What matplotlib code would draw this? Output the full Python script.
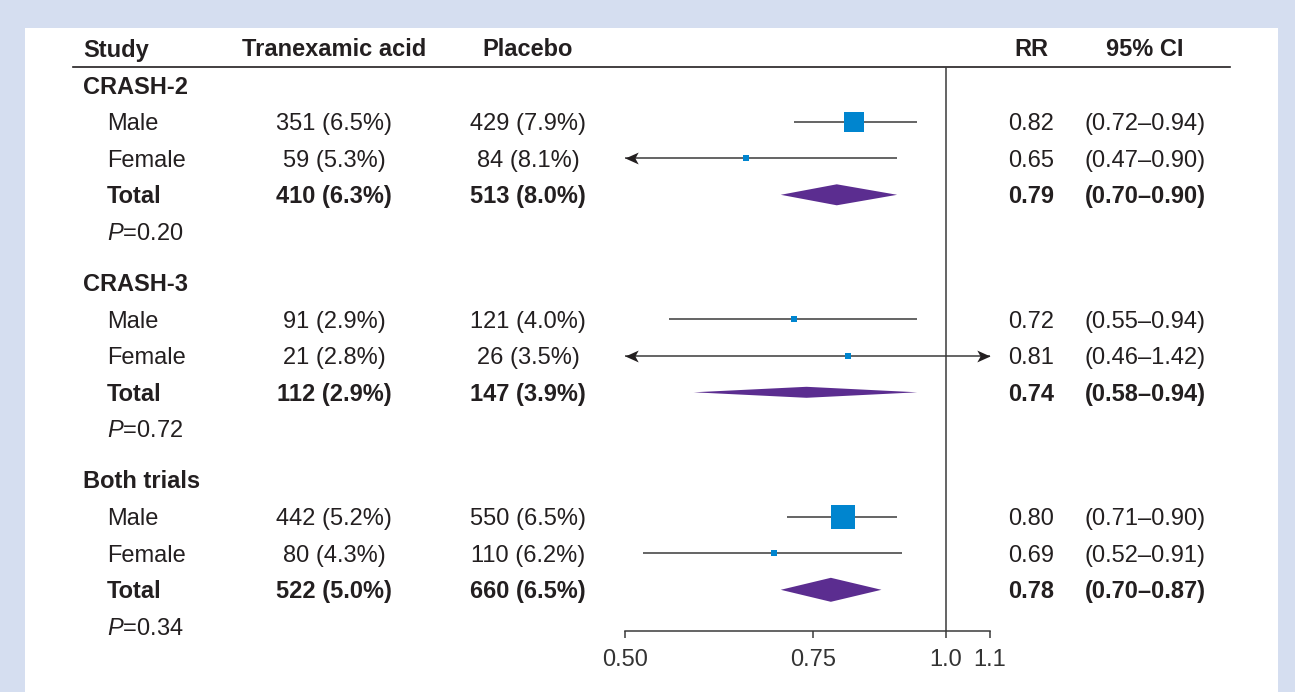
import matplotlib
matplotlib.use("Agg")
import matplotlib.pyplot as plt
from matplotlib.patches import Polygon, Rectangle
from matplotlib.ticker import NullLocator

# trial results by sex: tranexamic acid vs placebo
studies = ['CRASH-2', 'CRASH-3', 'Both trials']
subgroups = ['Male', 'Female', 'Total']
txa_events = [[351, 59, 410], [91, 21, 112], [442, 80, 522]]
txa_pct = [[6.5, 5.3, 6.3], [2.9, 2.8, 2.9], [5.2, 4.3, 5.0]]
plc_events = [[429, 84, 513], [121, 26, 147], [550, 110, 660]]
plc_pct = [[7.9, 8.1, 8.0], [4.0, 3.5, 3.9], [6.5, 6.2, 6.5]]
rr = [[0.82, 0.65, 0.79], [0.72, 0.81, 0.74], [0.80, 0.69, 0.78]]
ci_lo = [[0.72, 0.47, 0.70], [0.55, 0.46, 0.58], [0.71, 0.52, 0.70]]
ci_hi = [[0.94, 0.90, 0.90], [0.94, 1.42, 0.94], [0.90, 0.91, 0.87]]
p_het = [0.20, 0.72, 0.34]
ticks = [0.5, 0.75, 1.0, 1.1]
tick_labels = ['0.50', '0.75', '1.0', '1.1']

# styling
box_size = [[13.7, 4.4], [5.0, 4.4], [17.3, 5.0]]   # marker side, pt
diamond_half = [10.5, 5.5, 12.0]                      # px
TXT = '#231f20'
LINE = '#3a3a3a'
BLUE = '#0085cf'
PURPLE = '#5b2d90'
BG = '#d5def0'
FS = 17

# notched arrowheads, tip at the marker origin
ARROW_LEFT = [(0, 0), (1, 0.45), (0.75, 0), (1, -0.45), (0, 0)]
ARROW_RIGHT = [(-x, y) for x, y in ARROW_LEFT]

plt.rcParams['font.family'] = ['Liberation Sans', 'DejaVu Sans']
plt.rcParams['mathtext.fontset'] = 'custom'
plt.rcParams['mathtext.it'] = 'Liberation Sans:italic'
plt.rcParams['mathtext.rm'] = 'Liberation Sans'

W, H = 1295, 692
fig = plt.figure(figsize=(W / 100, H / 100), dpi=100)
fig.patch.set_facecolor(BG)

# text layer in pixel coordinates
tab = fig.add_axes([0, 0, 1, 1])
tab.set_xlim(0, W)
tab.set_ylim(H, 0)
tab.axis('off')
tab.add_patch(Rectangle((25, 28), 1253, H - 28, facecolor='white', edgecolor='none'))

# forest axis: log scale between 0.5 and 1.1
x0, x1 = 625, 990
ax = fig.add_axes([x0 / W, 0, (x1 - x0) / W, 1])
ax.set_facecolor('none')
ax.set_xscale('log')
ax.set_xlim(0.5, 1.1)
ax.set_ylim(H, 0)
for s in ['top', 'left', 'right']:
    ax.spines[s].set_visible(False)
axis_y = 631
ax.spines['bottom'].set_position(('data', axis_y))
ax.spines['bottom'].set_color(LINE)
ax.spines['bottom'].set_linewidth(1.1)
ax.set_yticks([])
ax.xaxis.set_minor_locator(NullLocator())
ax.set_xticks(ticks)
ax.set_xticklabels(tick_labels)
ax.tick_params(axis='x', direction='out', length=5, width=1.1, color=LINE,
               labelsize=FS, labelcolor='#333333', pad=8)

col_study, col_sub = 83, 107
col_txa, col_plc, col_rr, col_ci = 334, 528, 1031, 1145
cap = 8.5  # half cap height, px


def put(x, y, s, ha='left', bold=False):
    tab.text(x, y + cap, s, ha=ha, va='baseline', fontsize=FS, color=TXT,
             fontweight='bold' if bold else 'normal')


# header
header_y, line_y = 48, 67
put(col_study, header_y, 'Study', bold=True)
put(col_txa, header_y, 'Tranexamic acid', ha='center', bold=True)
put(col_plc, header_y, 'Placebo', ha='center', bold=True)
put(col_rr, header_y, 'RR', ha='center', bold=True)
put(col_ci, header_y, '95% CI', ha='center', bold=True)
tab.plot([73, 1230], [line_y, line_y], color=TXT, lw=1.2)

ax.vlines(1.0, line_y, axis_y, color=LINE, lw=1.1)

lo_lim, hi_lim = ax.get_xlim()
step = 36.6
for i, study in enumerate(studies):
    top = 85 + 197.5 * i
    put(col_study, top, study, bold=True)
    for j, sub in enumerate(subgroups):
        y = top + step * (j + 1)
        total = sub == 'Total'
        put(col_sub, y, sub, bold=total)
        put(col_txa, y, f'{txa_events[i][j]} ({txa_pct[i][j]:.1f}%)', ha='center', bold=total)
        put(col_plc, y, f'{plc_events[i][j]} ({plc_pct[i][j]:.1f}%)', ha='center', bold=total)
        put(col_rr, y, f'{rr[i][j]:.2f}', ha='center', bold=total)
        put(col_ci, y, f'({ci_lo[i][j]:.2f}\u2013{ci_hi[i][j]:.2f})', ha='center', bold=total)

        if total:
            h = diamond_half[i]
            ax.add_patch(Polygon([(ci_lo[i][j], y), (rr[i][j], y - h),
                                  (ci_hi[i][j], y), (rr[i][j], y + h)],
                                 closed=True, facecolor=PURPLE, edgecolor='none'))
            continue

        left = max(ci_lo[i][j], lo_lim)
        right = min(ci_hi[i][j], hi_lim)
        ax.plot([left, right], [y, y], color=LINE, lw=1.1, solid_capstyle='butt')
        # arrowheads where the interval runs past the axis
        if ci_lo[i][j] < lo_lim:
            ax.plot([lo_lim], [y], marker=ARROW_LEFT, ms=19, mew=0, color=TXT,
                    clip_on=False, zorder=3)
        if ci_hi[i][j] > hi_lim:
            ax.plot([hi_lim], [y], marker=ARROW_RIGHT, ms=19, mew=0, color=TXT,
                    clip_on=False, zorder=3)
        ax.plot([rr[i][j]], [y], marker='s', ms=box_size[i][j], mew=0,
                color=BLUE, zorder=3)

    put(col_sub, top + step * 4, rf'$\mathit{{P}}$={p_het[i]:.2f}')

fig.savefig('out.png', dpi=100, facecolor=fig.get_facecolor())
